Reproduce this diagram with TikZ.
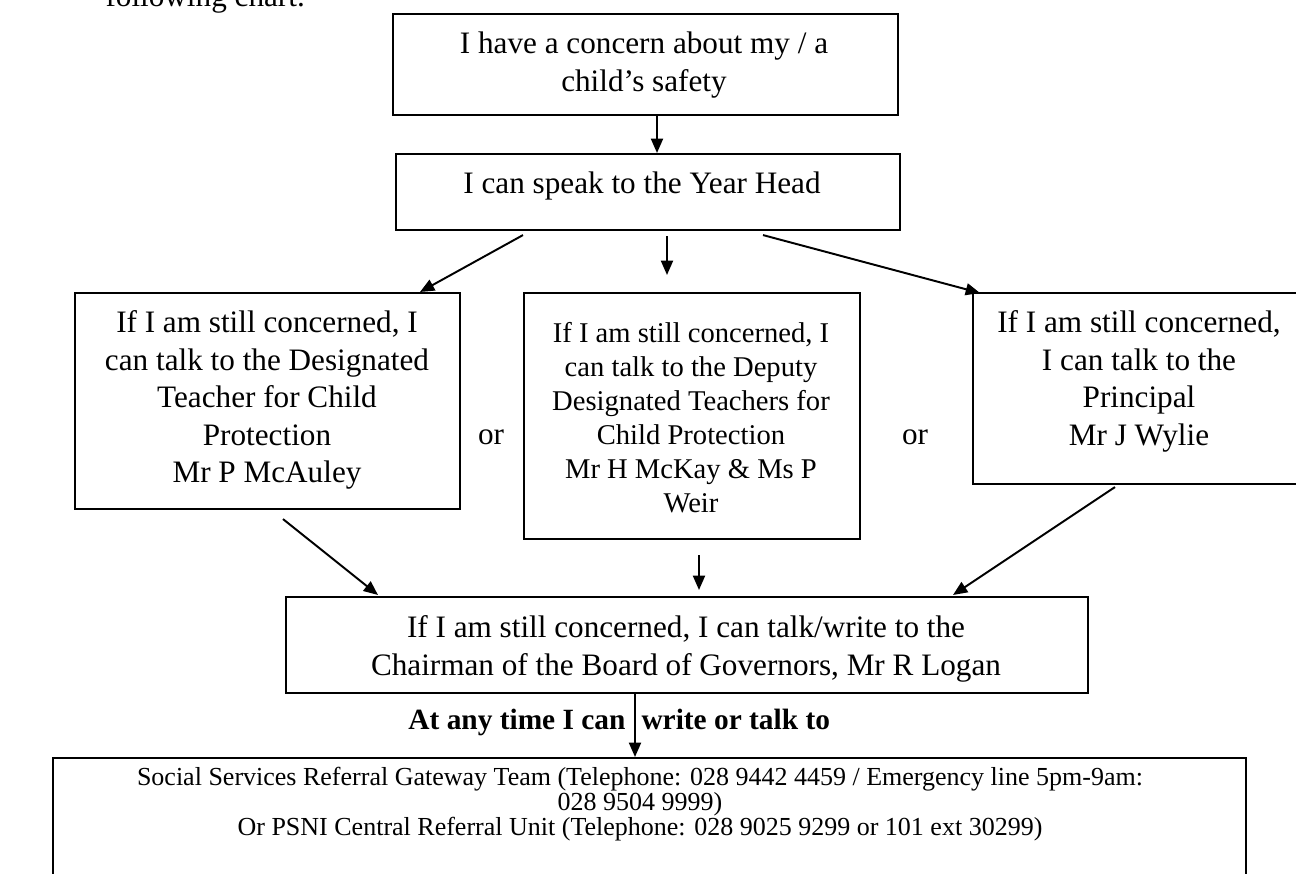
\documentclass[tikz,border=0pt]{standalone}
\usepackage{fontspec}
\setmainfont{Liberation Serif}
\usetikzlibrary{arrows.meta,calc}
\def\px{0.3846pt}
\begin{document}
\begin{tikzpicture}[x=0.3846pt, y=-0.3846pt,
  box/.style={draw, line width=0.8pt, inner sep=0pt, anchor=north west},
  txt/.style={inner sep=0pt, align=center, anchor=north, font=\fontsize{12}{14.4}\selectfont},
  smalltxt/.style={inner sep=0pt, align=center, anchor=north, font=\fontsize{11}{13.1}\selectfont},
  lbl/.style={inner sep=0pt, font=\fontsize{12}{14.4}\selectfont},
  boldlbl/.style={inner sep=0pt, font=\fontsize{11.3}{13.5}\selectfont\bfseries},
  arr/.style={line width=0.75pt, -{Triangle[length=5.5pt,width=4.6pt]}}
]
\clip (0,0) rectangle (1296,874);
\fill[white] (0,0) rectangle (1296,874);

% partially visible heading text
\node[lbl, anchor=base west] (head) at (105,7) {following chart.};

% boxes
\node[box, minimum width=505*\px, minimum height=101*\px] (b1) at (392,13) {};
\node[box, minimum width=504*\px, minimum height=76*\px] (b2) at (395,153) {};
\node[box, minimum width=385*\px, minimum height=216*\px] (b3) at (74,292) {};
\node[box, minimum width=336*\px, minimum height=246*\px] (bm) at (523,292) {};
\node[box, minimum width=334*\px, minimum height=191*\px] (br) at (972,292) {};
\node[box, minimum width=802*\px, minimum height=96*\px] (b6) at (285,596) {};
\node[box, minimum width=1193*\px, minimum height=160*\px] (b7) at (52,757) {};

% texts
\node[txt] (t1) at (644,27) {\strut I have a concern about my / a\\child’s safety};
\node[txt] (t2) at (642,167) {\strut I can speak to the Year Head};
\node[txt] (t3) at (267,306) {\strut If I am still concerned, I\\can talk to the Designated\\Teacher for Child\\Protection\\Mr P McAuley};
\node[smalltxt] (tm) at (691,318) {\strut If I am still concerned, I\\can talk to the Deputy\\Designated Teachers for\\Child Protection\\Mr H McKay \& Ms P\\Weir};
\node[txt] (tr) at (1139,306) {\strut If I am still concerned,\\I can talk to the\\Principal\\Mr J Wylie};
\node[txt] (t6) at (686,611) {\strut If I am still concerned, I can talk/write to the\\Chairman of the Board of Governors, Mr R Logan};
\node[lbl, anchor=base] (or1) at (491,445) {or};
\node[lbl, anchor=base] (or2) at (915,445) {or};
\node[boldlbl, anchor=base east] (at1) at (626,730) {At any time I can};
\node[boldlbl, anchor=base west] (at2) at (641,730) {write or talk to};
\begin{scope}
\lineskiplimit=-20pt\relax
\node[inner sep=0pt, align=center, anchor=north, font=\fontsize{10}{9.6}\selectfont] (t7) at (640,766.5)
  {\strut Social Services Referral Gateway Team (Telephone: 028 9442 4459 / Emergency line 5pm-9am:\\
   028 9504 9999)\\
   Or PSNI Central Referral Unit (Telephone: 028 9025 9299 or 101 ext 30299)};
\end{scope}

% connectors
\coordinate (c1) at (657,0);
\draw[arr] (b1.south -| c1) -- (b2.north -| c1);
\draw[arr] ($(b2.south west)+(128,4)$) -- ($(b3.north west)+(346,0)$);
\draw[arr] ($(b2.south west)+(272,5)$) -- ($(bm.north west)+(144,-17)$);
\draw[arr] ($(b2.south west)+(368,4)$) -- ($(br.north west)+(8,1)$);
\draw[arr] ($(b3.south west)+(209,9)$) -- ($(b6.north west)+(93,-1)$);
\draw[arr] ($(bm.south west)+(176,15)$) -- ($(b6.north west)+(414,-6)$);
\draw[arr] ($(br.south west)+(143,2)$) -- ($(b6.north west)+(668,-1)$);
\draw[arr] ($(b6.south west)+(350,0)$) -- ($(b7.north west)+(583,0)$);
\end{tikzpicture}
\end{document}
